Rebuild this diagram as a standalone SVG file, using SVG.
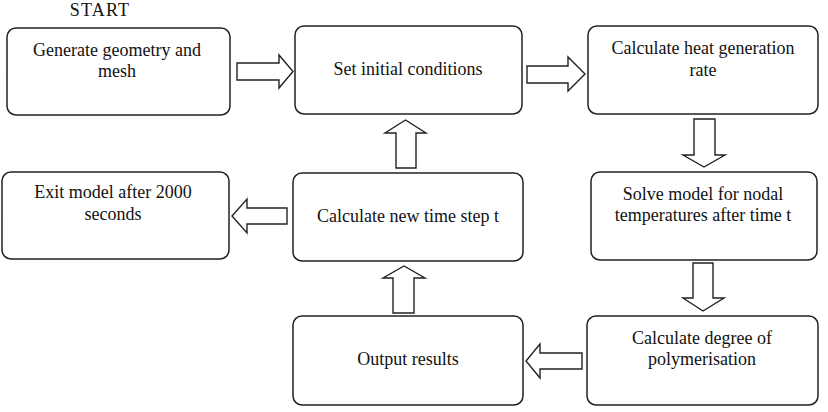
<svg xmlns="http://www.w3.org/2000/svg" width="828" height="412" viewBox="0 0 828 412">
<style>
.box{fill:#fff;stroke:#222;stroke-width:1.5}
.arr{fill:#fff;stroke:#222;stroke-width:1.4;stroke-linejoin:miter}
text{font-family:"Liberation Serif","Times New Roman",serif;font-size:18px;fill:#111;text-anchor:middle}
</style>
<rect width="828" height="412" fill="#fff"/>
<text x="100" y="16" style="font-size:18px;letter-spacing:1.2px">START</text>
<g id="connectors">
<polygon class="arr" points="237,63 279,63 279,55 293,71.5 279,88 279,80 237,80"/>
<polygon class="arr" points="527,66 568,66 568,57 585,74 568,91 568,83 527,83"/>
<polygon class="arr" points="694,119 715,119 715,155 725,155 704,167 683,155 694,155"/>
<polygon class="arr" points="693,263 713,263 713,298 724,298 703,311 683,298 693,298"/>
<polygon class="arr" points="582,353 582,369 540,369 540,378 526,361 540,344 540,353"/>
<polygon class="arr" points="393,313 414,313 414,278 425,278 404,266 383,278 393,278"/>
<polygon class="arr" points="396,168 416,168 416,133 426,133 405.5,120 385,133 396,133"/>
<polygon class="arr" points="287,208 287,224 247,224 247,233 232,216 247,199 247,208"/>
</g>
<g id="n1"><rect class="box" x="7" y="28" width="223" height="87" rx="9"/><text x="117" y="56">Generate geometry and</text><text x="117" y="77">mesh</text></g>
<g id="n2"><rect class="box" x="295" y="26" width="227" height="88" rx="9"/><text x="408" y="75">Set initial conditions</text></g>
<g id="n3"><rect class="box" x="588" y="26" width="230" height="88" rx="9"/><text x="703" y="54">Calculate heat generation</text><text x="703" y="76">rate</text></g>
<g id="n4"><rect class="box" x="591" y="172" width="226" height="88" rx="9"/><text x="703" y="200">Solve model for nodal</text><text x="703" y="221">temperatures after time t</text></g>
<g id="n5"><rect class="box" x="587" y="316" width="231" height="89" rx="9"/><text x="702" y="344">Calculate degree of</text><text x="702" y="365">polymerisation</text></g>
<g id="n6"><rect class="box" x="293" y="316" width="230" height="89" rx="9"/><text x="408" y="365">Output results</text></g>
<g id="n7"><rect class="box" x="293" y="173" width="230" height="88" rx="9"/><text x="408" y="222">Calculate new time step t</text></g>
<g id="n8"><rect class="box" x="2" y="172" width="227" height="87" rx="9"/><text x="113" y="198">Exit model after 2000</text><text x="113" y="220">seconds</text></g>
</svg>
